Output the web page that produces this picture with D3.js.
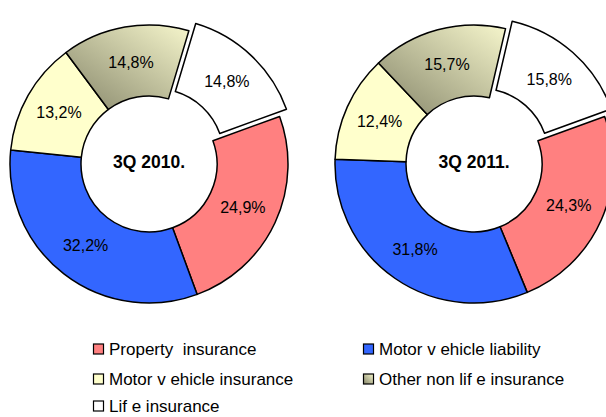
<!DOCTYPE html>
<html lang="en">
<head>
    <meta charset="UTF-8">
    <title>Insurance premium structure - D3.js</title>
    <script src="https://d3js.org/d3.v7.min.js"></script>
    <style>
        body { margin: 0; background: #fff; }
        svg { font-family: "Liberation Sans", Arial, sans-serif; }
        .slice-label { font-size: 16px; text-anchor: middle; dominant-baseline: central; fill: #000; }
        .center-label { font-size: 17.5px; font-weight: bold; text-anchor: middle; dominant-baseline: central; }
        .legend-text { font-size: 17px; white-space: pre; dominant-baseline: central; }
    </style>
</head>
<body>
<svg width="606" height="417"></svg>
<script>
    const width = 606;
    const height = 417;

    // data
    const categories = ["Property insurance", "Motor vehicle liability", "Motor vehicle insurance", "Other non life insurance", "Life insurance"];
    const legendLabels = ["Property  insurance", "Motor v ehicle liability", "Motor v ehicle insurance", "Other non lif e insurance", "Lif e insurance"];
    const periods = ["3Q 2010.", "3Q 2011."];
    const values2010 = [24.9, 32.2, 13.2, 14.8, 14.8];
    const values2011 = [24.3, 31.8, 12.4, 15.7, 15.8];
    const series = [values2010, values2011];

    const colors = ["#ff8080", "#3366ff", "#ffffcc", "url(#olive)", "#ffffff"];
    const explodedIndex = 4;

    const svg = d3.select("svg");

    const defs = svg.append("defs");
    const grad = defs.append("linearGradient")
        .attr("id", "olive")
        .attr("x1", 0).attr("y1", 1)
        .attr("x2", 1).attr("y2", 0);
    grad.append("stop").attr("offset", "0%").attr("stop-color", "#86866a");
    grad.append("stop").attr("offset", "100%").attr("stop-color", "#f6f6cc");

    const outerR = 139;
    const innerR = 68;
    const centers = [[149, 164], [474, 164]];
    const startAngle = 70 * Math.PI / 180;

    const pie = d3.pie()
        .sort(null)
        .startAngle(startAngle)
        .endAngle(startAngle + 2 * Math.PI);

    const arc = d3.arc().innerRadius(innerR).outerRadius(outerR);

    series.forEach(function(vals, k) {
        const g = svg.append("g")
            .attr("transform", "translate(" + centers[k][0] + "," + centers[k][1] + ")");

        const arcs = pie(vals);

        const slices = g.selectAll(".slice")
            .data(arcs)
            .enter().append("g")
            .attr("class", "slice")
            .attr("transform", function(d, i) {
                if (i !== explodedIndex) return null;
                const mid = (d.startAngle + d.endAngle) / 2;
                const off = 10;
                return "translate(" + (Math.sin(mid) * off) + "," + (-Math.cos(mid) * off) + ")";
            });

        slices.append("path")
            .attr("d", arc)
            .attr("fill", (d, i) => colors[i])
            .attr("stroke", "#000")
            .attr("stroke-width", 1.5)
            .attr("stroke-linejoin", "round");

        slices.append("text")
            .attr("class", "slice-label")
            .attr("x", d => arc.centroid(d)[0])
            .attr("y", d => arc.centroid(d)[1])
            .text(d => d3.format(".1f")(d.data).replace(".", ",") + "%");

        g.append("text")
            .attr("class", "center-label")
            .attr("x", 0)
            .attr("y", -2)
            .text(periods[k]);
    });

    // legend
    const legendPos = [[93, 349], [363, 349], [93, 379], [363, 379], [93, 406]];
    const legend = svg.append("g")
        .selectAll("g")
        .data(categories)
        .enter().append("g")
        .attr("transform", (d, i) => "translate(" + legendPos[i][0] + "," + legendPos[i][1] + ")");

    legend.append("rect")
        .attr("x", 0.5)
        .attr("y", -5)
        .attr("width", 10)
        .attr("height", 10)
        .attr("fill", (d, i) => colors[i])
        .attr("stroke", "#000")
        .attr("stroke-width", 1.2);

    legend.append("text")
        .attr("class", "legend-text")
        .attr("x", 16)
        .attr("y", 0)
        .text((d, i) => legendLabels[i]);
</script>
</body>
</html>
